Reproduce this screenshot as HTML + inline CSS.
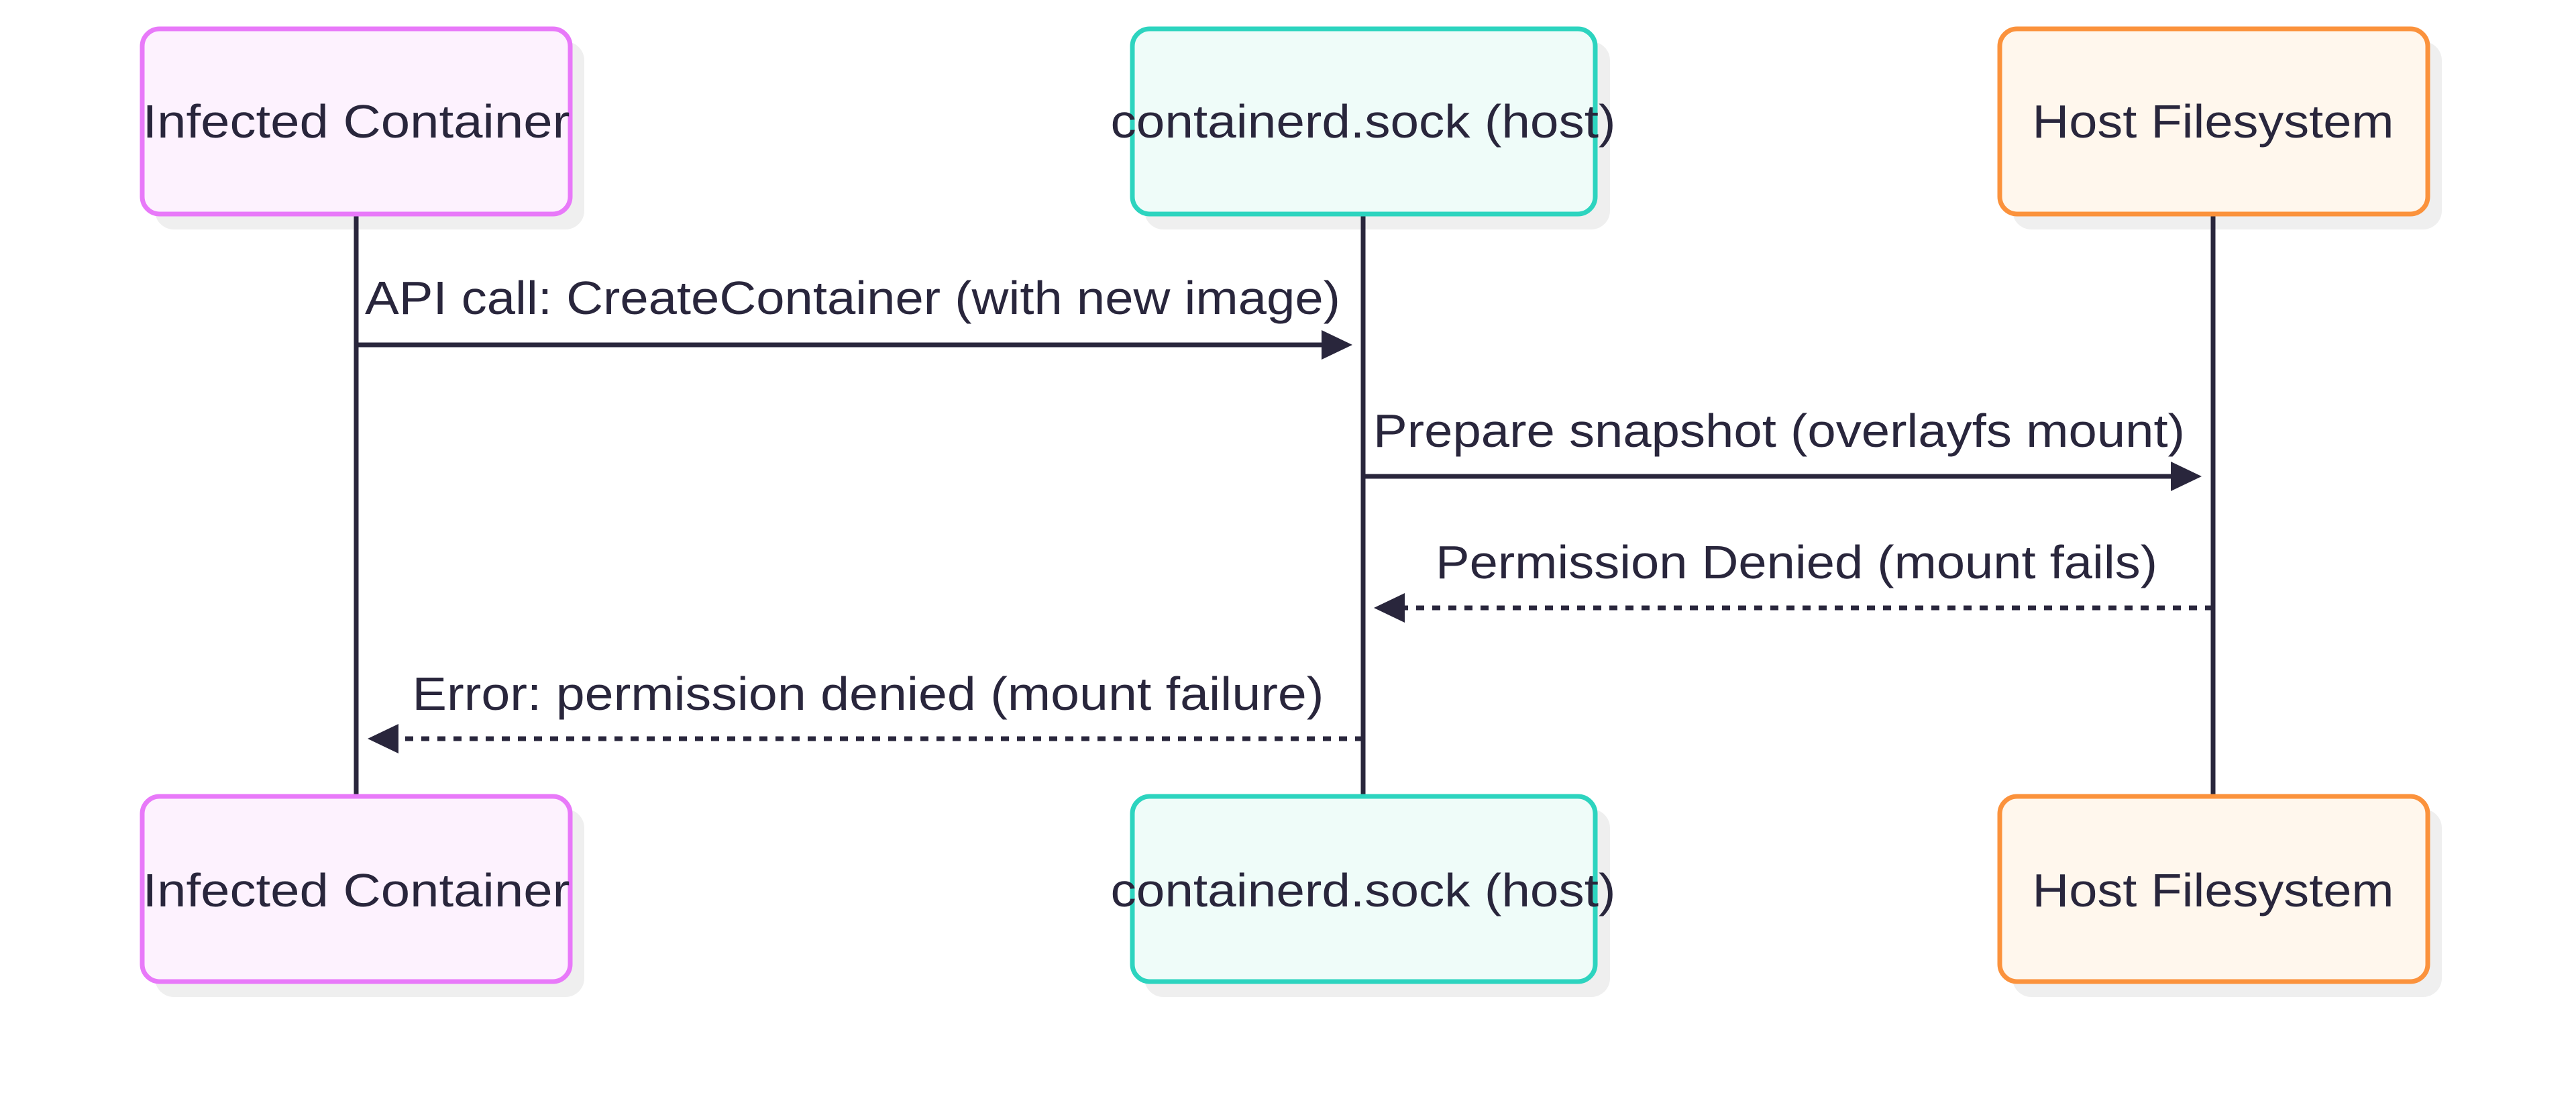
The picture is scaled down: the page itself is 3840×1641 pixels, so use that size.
<!DOCTYPE html>
<html><head><meta charset="utf-8"><style>html,body{margin:0;padding:0;background:#fff;}svg{display:block}</style></head>
<body>
<svg width="3840" height="1641" viewBox="0 0 3840 1641" xmlns="http://www.w3.org/2000/svg" font-family="'Liberation Sans', sans-serif" fill="#29263c">
<!-- shadows -->
<g fill="#efefef">
<rect x="231" y="62" width="640" height="280" rx="28"/>
<rect x="1706" y="62" width="694" height="280" rx="28"/>
<rect x="3000" y="62" width="640" height="280" rx="28"/>
<rect x="231" y="1206" width="640" height="280" rx="28"/>
<rect x="1706" y="1206" width="694" height="280" rx="28"/>
<rect x="3000" y="1206" width="640" height="280" rx="28"/>
</g>
<!-- lifelines -->
<g stroke="#29263c" stroke-width="7">
<line x1="531" y1="318" x2="531" y2="1186"/>
<line x1="2032" y1="318" x2="2032" y2="1186"/>
<line x1="3299" y1="318" x2="3299" y2="1186"/>
</g>
<g stroke-width="7">
<rect x="212" y="43" width="638" height="276" rx="26" fill="#fdf2fe" stroke="#e879f9"/>
<rect x="1688" y="43" width="690" height="276" rx="26" fill="#effcf9" stroke="#2dd4bf"/>
<rect x="2981" y="43" width="638" height="276" rx="26" fill="#fff7ed" stroke="#fb923c"/>
<rect x="212" y="1187" width="638" height="276" rx="26" fill="#fdf2fe" stroke="#e879f9"/>
<rect x="1688" y="1187" width="690" height="276" rx="26" fill="#effcf9" stroke="#2dd4bf"/>
<rect x="2981" y="1187" width="638" height="276" rx="26" fill="#fff7ed" stroke="#fb923c"/>
</g>
<g font-size="70" text-anchor="middle">
<text x="531" y="205" textLength="637" lengthAdjust="spacingAndGlyphs">Infected Container</text>
<text x="2032" y="205" textLength="753" lengthAdjust="spacingAndGlyphs">containerd.sock (host)</text>
<text x="3299" y="205" textLength="539" lengthAdjust="spacingAndGlyphs">Host Filesystem</text>
<text x="531" y="1351" textLength="637" lengthAdjust="spacingAndGlyphs">Infected Container</text>
<text x="2032" y="1351" textLength="753" lengthAdjust="spacingAndGlyphs">containerd.sock (host)</text>
<text x="3299" y="1351" textLength="539" lengthAdjust="spacingAndGlyphs">Host Filesystem</text>
<text x="1271" y="468" textLength="1454" lengthAdjust="spacingAndGlyphs">API call: CreateContainer (with new image)</text>
<text x="2652" y="666" textLength="1210" lengthAdjust="spacingAndGlyphs">Prepare snapshot (overlayfs mount)</text>
<text x="2678" y="862" textLength="1076" lengthAdjust="spacingAndGlyphs">Permission Denied (mount fails)</text>
<text x="1294" y="1058" textLength="1359" lengthAdjust="spacingAndGlyphs">Error: permission denied (mount failure)</text>
</g>
<!-- messages -->
<g stroke="#29263c" stroke-width="7" fill="none">
<line x1="531" y1="514" x2="1975" y2="514"/>
<line x1="2032" y1="710" x2="3240" y2="710"/>
<line x1="3299" y1="906" x2="2090" y2="906" stroke-dasharray="12 12"/>
<line x1="2032" y1="1101" x2="590" y2="1101" stroke-dasharray="12 12"/>
</g>
<g fill="#29263c">
<polygon points="2016,514 1970,492 1970,536"/>
<polygon points="3282,710 3236,688 3236,732"/>
<polygon points="2048,906 2094,884 2094,928"/>
<polygon points="548,1101 594,1079 594,1123"/>
</g>
</svg>
</body></html>
